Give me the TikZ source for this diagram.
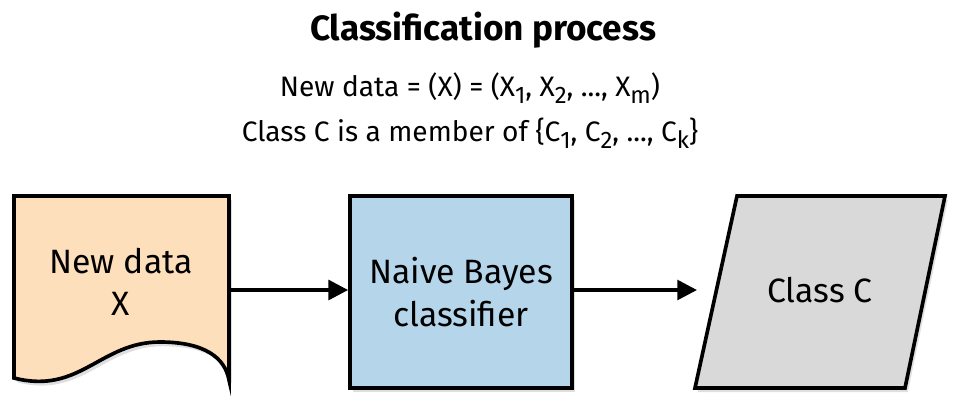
\documentclass[tikz,border=0pt]{standalone}
\usepackage{fontspec}
\setmainfont{Fira Sans}
\usetikzlibrary{positioning, arrows.meta, shadows}
\definecolor{docfill}{HTML}{FDDFBC}
\definecolor{boxfill}{HTML}{B4D5EA}
\definecolor{outfill}{HTML}{D9D9D9}
\newcommand{\lowsub}[1]{\raisebox{-0.45ex}{\fontsize{17}{20}\selectfont #1}}
\tikzset{
  shape line/.style={draw=black, line width=2.6pt, line join=miter,
    drop shadow={shadow xshift=2pt, shadow yshift=-3pt, opacity=0.25}},
  flow/.style={-{Triangle[length=14pt, width=14pt]}, line width=2.6pt},
  label text/.style={align=center, font=\fontsize{24}{30}\selectfont},
  formula/.style={font=\fontsize{20}{24}\selectfont},
}
\begin{document}
\begin{tikzpicture}[x=0.025cm, y=-0.025cm]
  \useasboundingbox (0,0) rectangle (966,410);
  % heading and formulas
  \node[font=\bfseries\fontsize{25}{30}\selectfont] (title) at (483,30) {Classification process};
  \node[formula] (formA) at (470,88) {New data = (X) = (X\lowsub{1}, X\lowsub{2}, ..., X\lowsub{m})};
  \node[formula] (formB) at (470,133) {Class C is a member of \{C\lowsub{1}, C\lowsub{2}, ..., C\lowsub{k}\}};

  % new data document
  \path[shape line, fill=docfill] (14,196) -- (229,196) -- (229,380)
    .. controls (225,358) and (205,342) .. (160,342)
    .. controls (100,342) and (80,395) .. (14,378) -- cycle;
  \node[label text] (newdata) at (121,282) {New data\\X};
  \coordinate (docout) at (229,290);

  % classifier box
  \node[shape line, fill=boxfill, minimum width=5.55cm, minimum height=4.8cm,
        label text, inner sep=0pt] (nbc) at (461,292) {Naive Bayes\\classifier};

  % result parallelogram
  \path[shape line, fill=outfill] (737,196) -- (945,196) -- (905,388) -- (695,388) -- cycle;
  \node[label text] (classc) at (820,290) {Class C};
  \coordinate (parin) at (697,290);

  \draw[flow] (docout) -- (nbc.west |- docout);
  \draw[flow] (nbc.east |- parin) -- (parin);
\end{tikzpicture}
\end{document}
